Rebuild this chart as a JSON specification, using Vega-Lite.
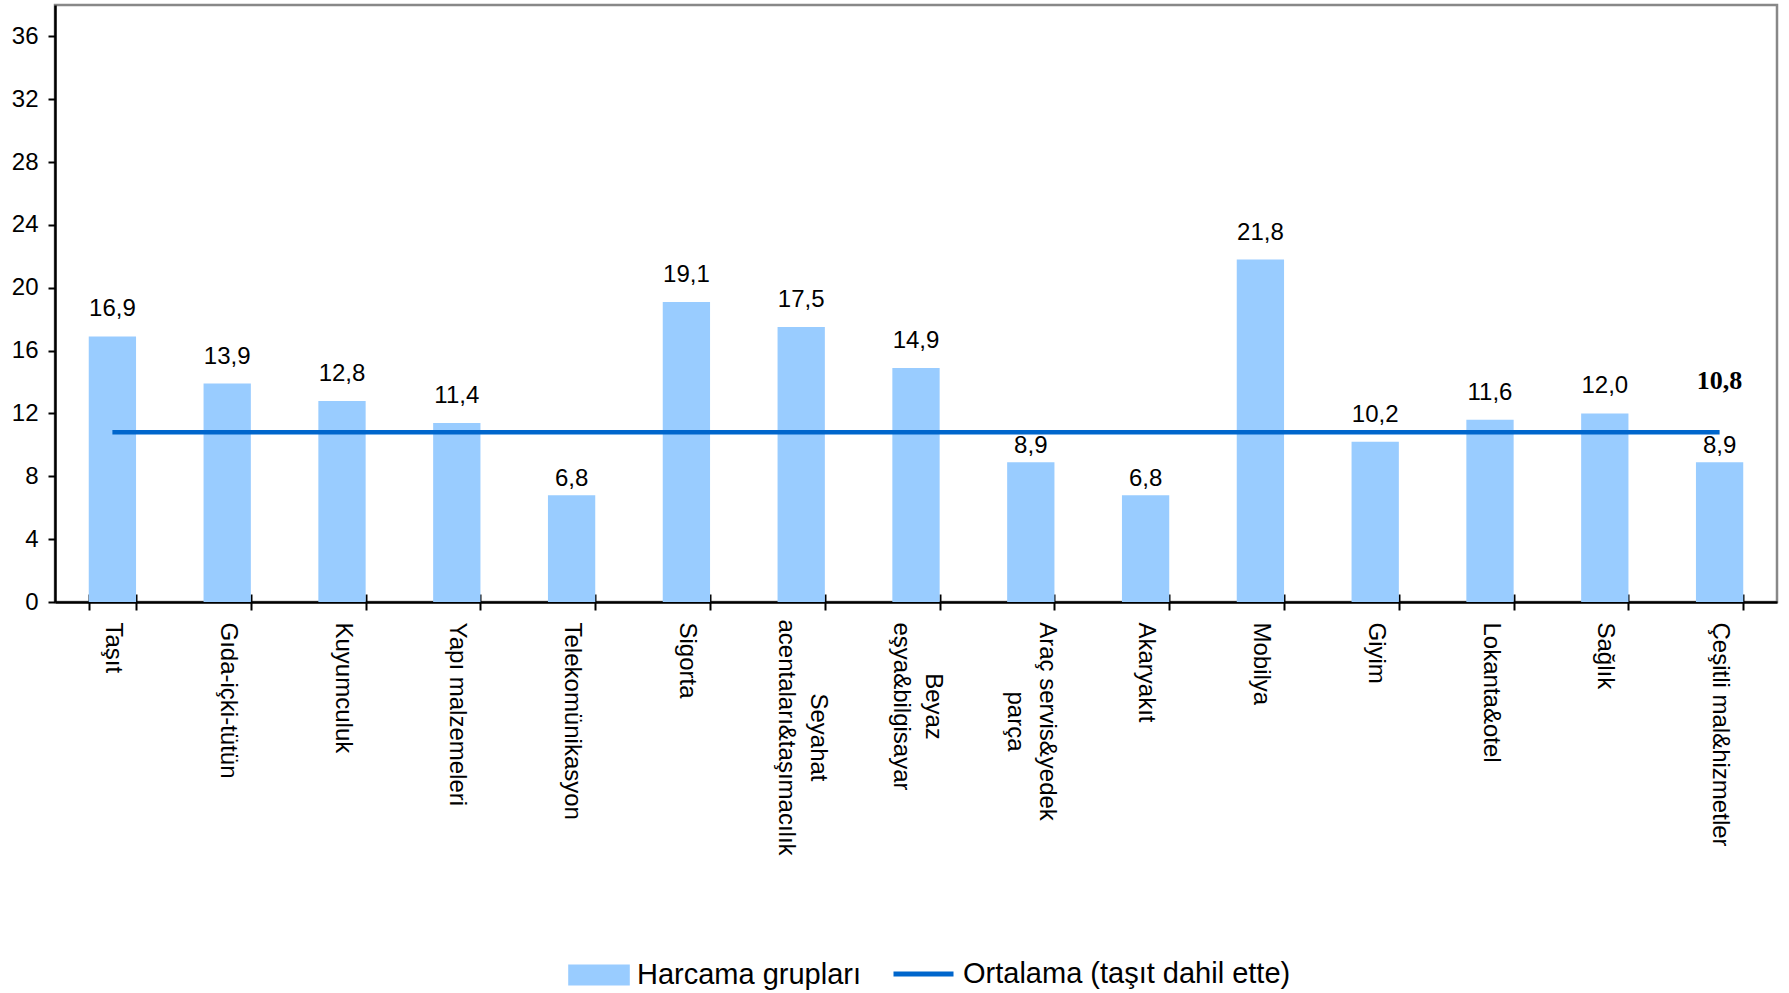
{
  "$schema": "https://vega.github.io/schema/vega-lite/v6.json",
  "width": 1722,
  "height": 597,
  "autosize": {"type": "none"},
  "padding": {"left": 55, "top": 5, "right": 12, "bottom": 391},
  "config": {
    "font": "Liberation Sans",
    "view": {"stroke": "#888888", "strokeWidth": 2.5},
    "locale": {"number": {"decimal": ",", "thousands": ".", "grouping": [3], "currency": ["", " TL"]}},
    "axis": {"domainColor": "#000000", "tickColor": "#000000", "labelColor": "#000000", "labelFont": "Liberation Sans", "labelFontSize": 24, "grid": false, "title": null},
    "text": {"color": "#000000"}
  },
  "data": {
    "values": [
      {"kategori": "Taşıt", "deger": 16.9, "ortalama": 10.8},
      {"kategori": "Gıda-içki-tütün", "deger": 13.9, "ortalama": 10.8},
      {"kategori": "Kuyumculuk", "deger": 12.8, "ortalama": 10.8},
      {"kategori": "Yapı malzemeleri", "deger": 11.4, "ortalama": 10.8},
      {"kategori": "Telekomünikasyon", "deger": 6.8, "ortalama": 10.8},
      {"kategori": "Sigorta", "deger": 19.1, "ortalama": 10.8},
      {"kategori": "Seyahat acentaları&taşımacılık", "deger": 17.5, "ortalama": 10.8},
      {"kategori": "Beyaz eşya&bilgisayar", "deger": 14.9, "ortalama": 10.8},
      {"kategori": "Araç servis&yedek parça", "deger": 8.9, "ortalama": 10.8},
      {"kategori": "Akaryakıt", "deger": 6.8, "ortalama": 10.8},
      {"kategori": "Mobilya", "deger": 21.8, "ortalama": 10.8},
      {"kategori": "Giyim", "deger": 10.2, "ortalama": 10.8},
      {"kategori": "Lokanta&otel", "deger": 11.6, "ortalama": 10.8},
      {"kategori": "Sağlık", "deger": 12.0, "ortalama": 10.8},
      {"kategori": "Çeşitli mal&hizmetler", "deger": 8.9, "ortalama": 10.8}
    ]
  },
  "layer": [
    {
      "encoding": {
        "x": {
          "field": "kategori",
          "type": "nominal",
          "sort": null,
          "scale": {"paddingInner": 0.588, "paddingOuter": 0.294},
          "axis": {
            "tickBand": "extent",
            "tickSize": 8,
            "tickWidth": 2,
            "domainWidth": 2.5,
            "labelAngle": 90,
            "labelBaseline": "middle",
            "labelAlign": {
              "condition": {"test": "datum.value === 'Seyahat acentaları&taşımacılık' || datum.value === 'Beyaz eşya&bilgisayar' || datum.value === 'Araç servis&yedek parça'", "value": "center"},
              "value": "left"
            },
            "labelPadding": {
              "condition": [
                {"test": "datum.value === 'Seyahat acentaları&taşımacılık'", "value": 127},
                {"test": "datum.value === 'Beyaz eşya&bilgisayar'", "value": 96},
                {"test": "datum.value === 'Araç servis&yedek parça'", "value": 111}
              ],
              "value": 12
            },
            "labelOffset": {
              "condition": {"test": "datum.value === 'Seyahat acentaları&taşımacılık' || datum.value === 'Beyaz eşya&bilgisayar' || datum.value === 'Araç servis&yedek parça'", "value": 16},
              "value": 0
            },
            "labelExpr": "datum.value === 'Seyahat acentaları&taşımacılık' ? ['Seyahat', 'acentaları&taşımacılık'] : datum.value === 'Beyaz eşya&bilgisayar' ? ['Beyaz', 'eşya&bilgisayar'] : datum.value === 'Araç servis&yedek parça' ? ['Araç servis&yedek', 'parça'] : datum.label",
            "labelLineHeight": 32,
            "labelLimit": 500,
            "labelOverlap": false,
            "labelBound": false,
            "labelFlush": false
          }
        }
      },
      "layer": [
        {
          "mark": {"type": "bar"},
          "encoding": {
            "y": {
              "field": "deger",
              "type": "quantitative",
              "scale": {"domain": [0, 38], "nice": false, "zero": true},
              "axis": {"values": [0, 4, 8, 12, 16, 20, 24, 28, 32, 36], "tickSize": 7, "tickWidth": 2, "domainWidth": 2.5, "labelPadding": 10, "labelFontSize": 24}
            },
            "fill": {
              "datum": "Harcama grupları",
              "type": "nominal",
              "scale": {"range": ["#99CCFF"]},
              "legend": {
                "orient": "none",
                "legendX": 513,
                "legendY": 939,
                "title": null,
                "symbolType": "M-1,-0.34H1V0.34H-1Z",
                "symbolSize": 3795,
                "symbolStrokeWidth": 0,
                "labelFontSize": 29,
                "labelOffset": 7,
                "labelFont": "Liberation Sans",
                "labelColor": "#000000",
                "labelLimit": 600,
                "padding": 0
              }
            }
          }
        },
        {
          "mark": {"type": "text", "dy": {"expr": "datum.deger < 10 ? -9 : -20"}, "baseline": "alphabetic", "fontSize": 24, "font": "Liberation Sans"},
          "encoding": {
            "y": {"field": "deger", "type": "quantitative"},
            "text": {"field": "deger", "type": "quantitative", "format": ".1f"}
          }
        },
        {
          "transform": [{"filter": "datum.kategori === 'Çeşitli mal&hizmetler'"}],
          "mark": {"type": "text", "dy": -43, "baseline": "alphabetic", "fontSize": 26, "font": "Liberation Serif", "fontWeight": "bold"},
          "encoding": {
            "y": {"field": "ortalama", "type": "quantitative"},
            "text": {"field": "ortalama", "type": "quantitative", "format": ".1f"}
          }
        }
      ]
    },
    {
      "mark": {"type": "line", "strokeWidth": 4.5},
      "encoding": {
        "x": {
          "field": "kategori",
          "type": "nominal",
          "sort": null,
          "scale": {"paddingInner": 0.588, "paddingOuter": 0.294},
          "axis": {"orient": "bottom", "tickBand": "extent", "tickSize": -8, "tickWidth": 2, "labels": false, "domain": false, "title": null}
        },
        "y": {"field": "ortalama", "type": "quantitative"},
        "stroke": {
          "datum": "Ortalama (taşıt dahil ette)",
          "type": "nominal",
          "scale": {"range": ["#0066CC"]},
          "legend": {
            "orient": "none",
            "legendX": 836,
            "legendY": 936.5,
            "title": null,
            "symbolType": "stroke",
            "symbolSize": 3600,
            "symbolStrokeWidth": 5,
            "labelFontSize": 29,
            "labelOffset": 7,
            "labelFont": "Liberation Sans",
            "labelColor": "#000000",
            "labelLimit": 600,
            "padding": 0
          }
        }
      }
    }
  ],
  "resolve": {"scale": {"x": "independent"}, "axis": {"x": "independent"}}
}
